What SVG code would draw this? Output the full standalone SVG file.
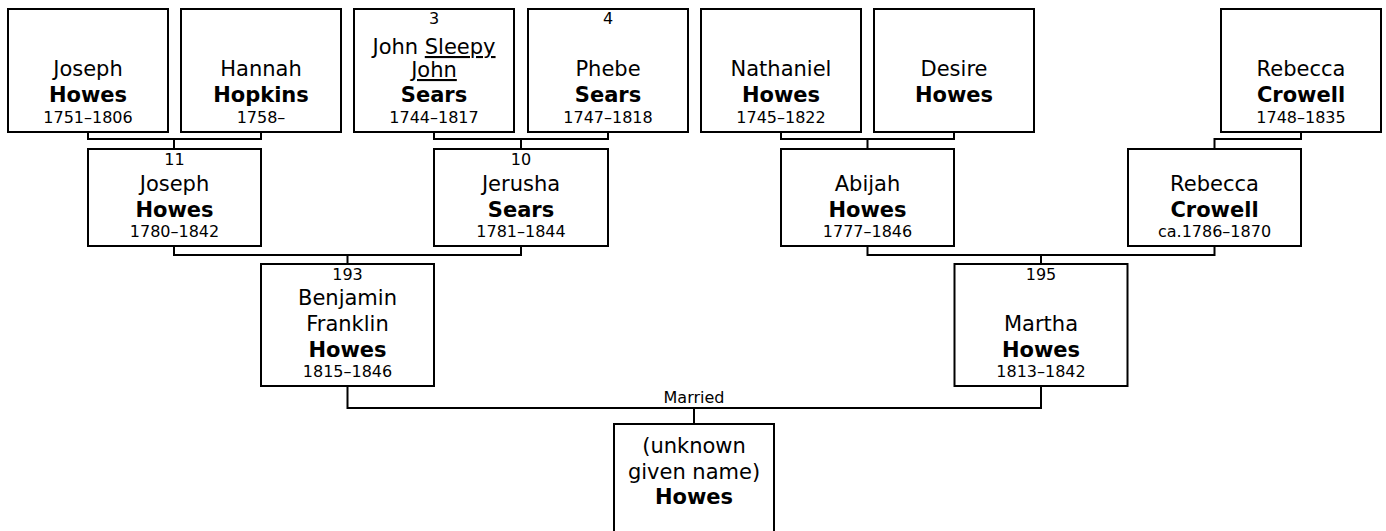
<svg xmlns="http://www.w3.org/2000/svg" width="1386" height="531" viewBox="0 0 1386 531">
<style>
.box{fill:#fff;stroke:#000;stroke-width:2}
.con{fill:none;stroke:#000;stroke-width:2}
text{font-family:"DejaVu Sans","Verdana",sans-serif;text-anchor:middle;fill:#000}
.g{font-size:21px}
.s{font-size:21px;font-weight:bold}
.d{font-size:16px}
.u{text-decoration:underline}
</style>
<g id="connectors">
<path class="con" d="M88 132V139H261V132M174 139V149"/>
<path class="con" d="M434 132V139H608V132M521 139V149"/>
<path class="con" d="M781 132V139H954V132M867.5 139V149"/>
<path class="con" d="M1301 132V139H1214.5V149"/>
<path class="con" d="M174 246V255H521V246M347.5 255V264"/>
<path class="con" d="M867.5 246V255H1214.5V246M1041 255V264"/>
<path class="con" d="M347.5 386V408H1041V386M694 408V424"/>
<text class="d" x="694" y="403">Married</text>
</g>
<g id="n1"><rect class="box" x="8" y="9" width="160" height="123"/>
<text class="g" x="88" y="76">Joseph</text><text class="s" x="88" y="101.5">Howes</text><text class="d" x="88" y="122.5">1751–1806</text></g>
<g id="n2"><rect class="box" x="181" y="9" width="160" height="123"/>
<text class="g" x="261" y="76">Hannah</text><text class="s" x="261" y="101.5">Hopkins</text><text class="d" x="261" y="122.5">1758–</text></g>
<g id="n3"><rect class="box" x="354" y="9" width="160" height="123"/>
<text class="d" x="434" y="24">3</text>
<text class="g" x="434" y="54">John <tspan class="u">Sleepy</tspan></text>
<text class="g u" x="434" y="77">John</text>
<text class="s" x="434" y="101.5">Sears</text><text class="d" x="434" y="122.5">1744–1817</text></g>
<g id="n4"><rect class="box" x="528" y="9" width="160" height="123"/>
<text class="d" x="608" y="24">4</text>
<text class="g" x="608" y="76">Phebe</text><text class="s" x="608" y="101.5">Sears</text><text class="d" x="608" y="122.5">1747–1818</text></g>
<g id="n5"><rect class="box" x="701" y="9" width="160" height="123"/>
<text class="g" x="781" y="76">Nathaniel</text><text class="s" x="781" y="101.5">Howes</text><text class="d" x="781" y="122.5">1745–1822</text></g>
<g id="n6"><rect class="box" x="874" y="9" width="160" height="123"/>
<text class="g" x="954" y="76">Desire</text><text class="s" x="954" y="101.5">Howes</text></g>
<g id="n7"><rect class="box" x="1221" y="9" width="160" height="123"/>
<text class="g" x="1301" y="76">Rebecca</text><text class="s" x="1301" y="101.5">Crowell</text><text class="d" x="1301" y="122.5">1748–1835</text></g>
<g id="n11"><rect class="box" x="88" y="149" width="173" height="97"/>
<text class="d" x="174.5" y="164.5">11</text>
<text class="g" x="174.5" y="191">Joseph</text><text class="s" x="174.5" y="217">Howes</text><text class="d" x="174.5" y="236.5">1780–1842</text></g>
<g id="n10"><rect class="box" x="434" y="149" width="174" height="97"/>
<text class="d" x="521" y="164.5">10</text>
<text class="g" x="521" y="191">Jerusha</text><text class="s" x="521" y="217">Sears</text><text class="d" x="521" y="236.5">1781–1844</text></g>
<g id="nAbijah"><rect class="box" x="781" y="149" width="173" height="97"/>
<text class="g" x="867.5" y="191">Abijah</text><text class="s" x="867.5" y="217">Howes</text><text class="d" x="867.5" y="236.5">1777–1846</text></g>
<g id="nRebecca2"><rect class="box" x="1128" y="149" width="173" height="97"/>
<text class="g" x="1214.5" y="191">Rebecca</text><text class="s" x="1214.5" y="217">Crowell</text><text class="d" x="1214.5" y="236.5">ca.1786–1870</text></g>
<g id="n193"><rect class="box" x="261" y="264" width="173" height="122"/>
<text class="d" x="347.5" y="280">193</text>
<text class="g" x="347.5" y="304.5">Benjamin</text><text class="g" x="347.5" y="330.5">Franklin</text>
<text class="s" x="347.5" y="356.5">Howes</text><text class="d" x="347.5" y="376.5">1815–1846</text></g>
<g id="n195"><rect class="box" x="954.5" y="264" width="173" height="122"/>
<text class="d" x="1041" y="280">195</text>
<text class="g" x="1041" y="330.5">Martha</text>
<text class="s" x="1041" y="356.5">Howes</text><text class="d" x="1041" y="376.5">1813–1842</text></g>
<g id="nChild"><rect class="box" x="614" y="424" width="160" height="200"/>
<text class="g" x="694" y="453">(unknown</text><text class="g" x="694" y="479">given name)</text>
<text class="s" x="694" y="503.5">Howes</text></g>
</svg>
